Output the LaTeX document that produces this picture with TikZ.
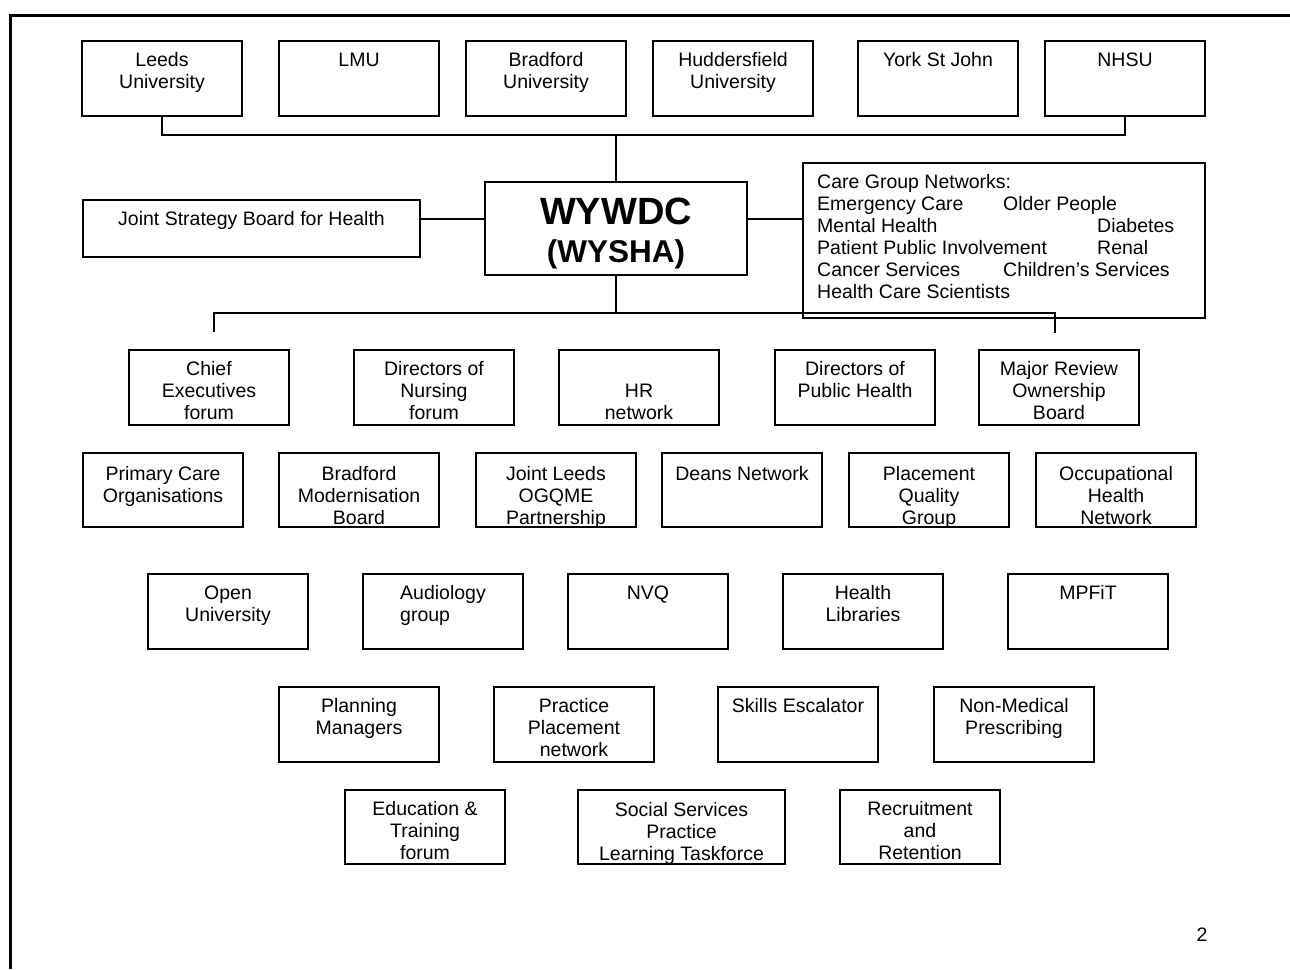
\documentclass[tikz,border=0pt]{standalone}
\usepackage{fontspec}
\setmainfont{Liberation Sans}
\tikzset{
  x=1pt, y=-1pt,
  box/.style={draw, line width=1.8pt, inner sep=0pt, outer sep=0pt},
  lbl/.style={anchor=north, inner sep=0pt, align=center,
    font=\fontsize{19.5}{22}\selectfont,
    execute at begin node={\rule{0pt}{14pt}}},
  conn/.style={line width=1.8pt},
}
\newcommand\bx[7][]{%
  \node[box, minimum width={#5-#3}, minimum height={#6-#4}] (#2) at ({(#3+#5)/2},{(#4+#6)/2}) {};
  \begin{scope}
    \clip (#3,#4) rectangle (#5,{#6-1});
    \node[lbl,#1] (#2-t) at ({(#3+#5)/2},{#4+11.5}) {#7};
  \end{scope}
}
\begin{document}
\begin{tikzpicture}
\useasboundingbox (0,0) rectangle (1290,969);
% page frame
\draw[line width=3pt] (10,969) -- (10,15) -- (1290,15);

% row 1
\bx{leeds}{82}{41}{242}{116}{Leeds\\University}
\bx{lmu}{279}{41}{439}{116}{LMU}
\bx{brad}{466}{41}{626}{116}{Bradford\\University}
\bx{hud}{653}{41}{813}{116}{Huddersfield\\University}
\bx{york}{858}{41}{1018}{116}{York St John}
\bx{nhsu}{1045}{41}{1205}{116}{NHSU}

% middle
\bx{jsb}{83}{200}{420}{257}{Joint Strategy Board for Health}
\node[box, minimum width=262, minimum height=93] (wywdc) at (616,228.5) {};
\node[anchor=base, inner sep=0pt, font=\bfseries\fontsize{38}{40}\selectfont] (wywdc-a) at (616,224) {WYWDC};
\node[anchor=base, inner sep=0pt, font=\bfseries\fontsize{31.5}{32}\selectfont] (wywdc-b) at (616,262) {(WYSHA)};

\node[box, minimum width=402, minimum height=155] (care) at (1004,240.5) {};
\node[lbl, anchor=north west, align=left] (care-t) at (817,174.5) {%
Care Group Networks:\\
\makebox[186pt][l]{Emergency Care}Older People\\
\makebox[280pt][l]{Mental Health}Diabetes\\
\makebox[280pt][l]{Patient Public Involvement}Renal\\
\makebox[186pt][l]{Cancer Services}Children’s Services\\
Health Care Scientists};

% row 2
\bx{chief}{129}{350}{289}{425}{Chief\\Executives\\forum}
\bx{dnurse}{354}{350}{514}{425}{Directors of\\Nursing\\forum}
\bx[yshift=-22pt]{hr}{559}{350}{719}{425}{HR\\network}
\bx{dph}{775}{350}{935}{425}{Directors of\\Public Health}
\bx{major}{979}{350}{1139}{425}{Major Review\\Ownership\\Board}

% row 3
\bx[yshift=-2pt]{pco}{83}{453}{243}{527}{Primary Care\\Organisations}
\bx[yshift=-2pt]{bmb}{279}{453}{439}{527}{Bradford\\Modernisation\\Board}
\bx[yshift=-2pt]{jlo}{476}{453}{636}{527}{Joint Leeds\\OGQME\\Partnership}
\bx[yshift=-2pt]{deans}{662}{453}{822}{527}{Deans Network}
\bx[yshift=-2pt]{pqg}{849}{453}{1009}{527}{Placement\\Quality\\Group}
\bx[yshift=-2pt]{ohn}{1036}{453}{1196}{527}{Occupational\\Health\\Network}

% row 4
\bx{ou}{148}{574}{308}{649}{Open\\University}
\bx[align=left]{aud}{363}{574}{523}{649}{Audiology\\group}
\bx{nvq}{568}{574}{728}{649}{NVQ}
\bx{hl}{783}{574}{943}{649}{Health\\Libraries}
\bx{mpfit}{1008}{574}{1168}{649}{MPFiT}

% row 5
\bx{pm}{279}{687}{439}{762}{Planning\\Managers}
\bx{ppn}{494}{687}{654}{762}{Practice\\Placement\\network}
\bx{se}{718}{687}{878}{762}{Skills Escalator}
\bx{nmp}{934}{687}{1094}{762}{Non-Medical\\Prescribing}

% row 6
\bx{et}{345}{790}{505}{864}{Education \&\\Training\\forum}
\bx[yshift=-1pt]{ss}{578}{790}{785}{864}{Social Services\\Practice\\Learning Taskforce}
\bx{rr}{840}{790}{1000}{864}{Recruitment\\and\\Retention}

% connectors
\coordinate (topbar) at (616,135);
\draw[conn] (leeds.south) |- (topbar) -| (nhsu.south);
\draw[conn] (wywdc.north) -- (topbar);
\coordinate (mid) at (616,219);
\draw[conn] (jsb.east |- mid) -- (wywdc.west |- mid);
\draw[conn] (wywdc.east |- mid) -- (care.west |- mid);
\coordinate (botbar) at (616,313);
\coordinate (bl) at (214,332);
\coordinate (br) at (1055,333);
\draw[conn] (wywdc.south) -- (botbar);
\draw[conn] (bl) |- (botbar) -| (br);

% page number
\node[anchor=base, inner sep=0pt, font=\fontsize{19.5}{22}\selectfont] (pageno) at (1202,941) {2};
\end{tikzpicture}
\end{document}
